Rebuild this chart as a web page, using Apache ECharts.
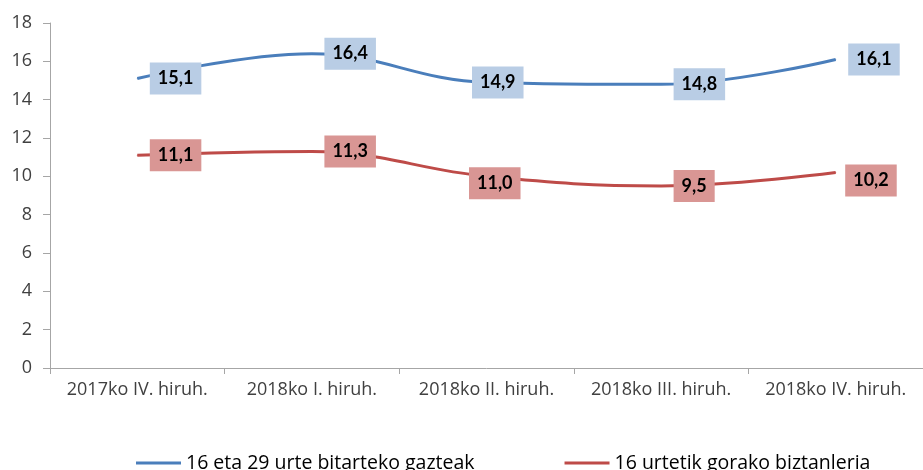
<!DOCTYPE html>
<html>
<head>
<meta charset="utf-8">
<script src="https://cdn.jsdelivr.net/npm/echarts@6/dist/echarts.min.js"></script>
<style>
  html, body { margin: 0; padding: 0; background: #fff; }
  #main { width: 923px; height: 470px; }
</style>
</head>
<body>
<div id="main"></div>
<script>
var categories = ['2017ko IV. hiruh.', '2018ko I. hiruh.', '2018ko II. hiruh.', '2018ko III. hiruh.', '2018ko IV. hiruh.'];
var seriesNames = ['16 eta 29 urte bitarteko gazteak', '16 urtetik gorako biztanleria'];
var youngValues = [15.1, 16.4, 14.9, 14.8, 16.1];
var youngLabels = ['15,1', '16,4', '14,9', '14,8', '16,1'];
var allValues = [11.1, 11.3, 10.0, 9.5, 10.2];
var allLabels = ['11,1', '11,3', '11,0', '9,5', '10,2'];
var yTicks = [0, 2, 4, 6, 8, 10, 12, 14, 16, 18];

// label box shifts (Excel moved a few by hand)
var youngShift = [[0, 0], [0, 0], [-27, 0], [0, 0], [0, 0]];
var allShift = [[0, 0], [0, 0], [-30, 7], [0, 0], [-3, 8]];

function buildData(values, labels, shift) {
    var res = [];
    for (var i = 0; i < values.length; i++) {
        res.push({
            value: values[i],
            label: { formatter: labels[i], offset: shift[i] }
        });
    }
    return res;
}

var font = '"Open Sans", Lato, sans-serif';
var boxFont = 'Lato, "Open Sans", sans-serif';

var myChart = echarts.init(document.getElementById('main'));
var option = {
    animation: false,
    textStyle: { fontFamily: font },
    grid: {
        left: 50,
        top: 23,
        width: 882,
        bottom: 102,
        containLabel: false
    },
    legend: {
        left: 131,
        top: 448,
        icon: 'rect',
        itemWidth: 45,
        itemHeight: 3,
        itemGap: 90,
        textStyle: { color: '#000', fontSize: 19.5, fontFamily: font },
        data: seriesNames
    },
    xAxis: {
        type: 'category',
        boundaryGap: true,
        data: categories,
        axisLine: { lineStyle: { color: '#a6a6a6', width: 1 } },
        axisTick: { show: true, length: 6, lineStyle: { color: '#a6a6a6' } },
        axisLabel: { color: '#404040', fontSize: 18, margin: 13, interval: 0 }
    },
    yAxis: {
        type: 'value',
        min: yTicks[0],
        max: yTicks[yTicks.length - 1],
        interval: 2,
        axisLine: { show: true, lineStyle: { color: '#a6a6a6', width: 1 } },
        axisTick: { show: true, length: 7, lineStyle: { color: '#a6a6a6' } },
        axisLabel: { color: '#404040', fontSize: 18, margin: 18 },
        splitLine: { show: false }
    },
    series: [
        {
            name: seriesNames[0],
            type: 'line',
            smooth: 0.4,
            symbol: 'circle',
            symbolSize: 1,
            showSymbol: true,
            itemStyle: { color: '#4a7ebb' },
            lineStyle: { color: '#4a7ebb', width: 3 },
            label: {
                show: true,
                position: 'right',
                distance: 12,
                color: '#000',
                fontWeight: 'bold',
                fontSize: 18,
                fontFamily: boxFont,
                backgroundColor: '#b9cde5',
                padding: [7, 8, 7, 8]
            },
            data: buildData(youngValues, youngLabels, youngShift)
        },
        {
            name: seriesNames[1],
            type: 'line',
            smooth: 0.4,
            symbol: 'circle',
            symbolSize: 1,
            showSymbol: true,
            itemStyle: { color: '#be4b48' },
            lineStyle: { color: '#be4b48', width: 3 },
            label: {
                show: true,
                position: 'right',
                distance: 12,
                color: '#000',
                fontWeight: 'bold',
                fontSize: 18,
                fontFamily: boxFont,
                backgroundColor: '#d99694',
                padding: [7, 8, 7, 8]
            },
            data: buildData(allValues, allLabels, allShift)
        }
    ]
};
myChart.setOption(option);
</script>
</body>
</html>
